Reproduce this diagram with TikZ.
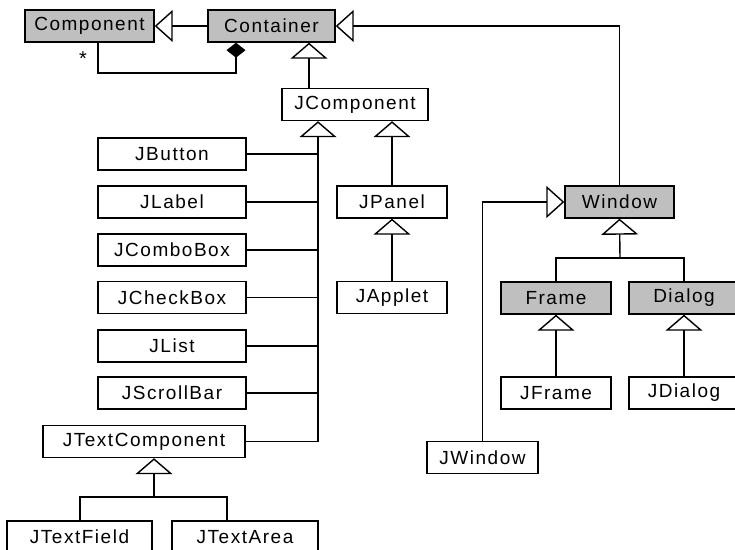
\documentclass[tikz,border=0pt]{standalone}
\usepackage{fontspec}
\setmainfont[LetterSpace=8]{Liberation Sans}
\usetikzlibrary{arrows.meta}
\begin{document}
\begin{tikzpicture}[x=1pt,y=-1pt,
  cls/.style={draw, line width=1.4pt, fill=white, minimum height=32pt, inner sep=0pt, font=\fontsize{19}{21}\selectfont},
  abs/.style={cls, fill=black!25},
  conn/.style={line width=1.4pt},
  inh/.style={conn, -{Triangle[open,length=16pt,width=37pt]}},
  hinh/.style={conn, -{Triangle[open,length=18pt,width=32pt]}},
  compo/.style={conn, -{Diamond[length=15pt,width=19pt]}}]
\useasboundingbox (0,0) rectangle (735,549);
% nodes
\node[abs, minimum width=129pt] (Component) at (89.5,26) {Component};
\node[abs, minimum width=127pt] (Container) at (271.5,26) {Container};
\node[cls, minimum width=146pt] (JComponent) at (355,104.5) {JComponent};
\node[cls, minimum width=148pt] (JButton) at (172,154) {JButton};
\node[cls, minimum width=148pt] (JLabel) at (172,202) {JLabel};
\node[cls, minimum width=148pt] (JComboBox) at (172,250) {JComboBox};
\node[cls, minimum width=148pt] (JCheckBox) at (172,297.5) {JCheckBox};
\node[cls, minimum width=148pt] (JList) at (172,346) {JList};
\node[cls, minimum width=148pt] (JScrollBar) at (172,393) {JScrollBar};
\node[cls, minimum width=202pt] (JTextComponent) at (144,441.5) {JTextComponent};
\node[cls, minimum width=145pt] (JTextField) at (79.5,537) {JTextField};
\node[cls, minimum width=146pt] (JTextArea) at (245,537) {JTextArea};
\node[cls, minimum width=110pt] (JPanel) at (392,202) {JPanel};
\node[cls, minimum width=110pt] (JApplet) at (392,297.5) {JApplet};
\node[abs, minimum width=109pt] (Window) at (619.5,202) {Window};
\node[abs, minimum width=110pt] (Frame) at (556,298) {Frame};
\node[abs, minimum width=110pt] (Dialog) at (684,298) {Dialog};
\node[cls, minimum width=110pt] (JFrame) at (556,393) {JFrame};
\node[cls, minimum width=110pt] (JDialog) at (684,393) {JDialog};
\node[cls, minimum width=111pt] (JWindow) at (482.5,457.5) {JWindow};
\node[font=\fontsize{20}{20}\selectfont, inner sep=0pt] (star) at (83,59) {*};
% helper coordinates
\coordinate (cA) at (98,73);
\coordinate (cB) at (236,73);
\coordinate (xJC) at (309,0);
\coordinate (xJB) at (318,0);
\coordinate (xTC) at (154,0);
\coordinate (tcL) at (80,497);
\coordinate (tcR) at (227,497);
\coordinate (tcM) at (154,497);
\coordinate (wM) at (620,258);
% connectors
\draw[hinh] (Container.west) -- (Component.east);
\draw[compo] (cA |- Component.south) -- (cA) -- (cB) -- (cB |- Container.south);
\draw[hinh] (Window.north) |- (Container.east);
\draw[inh] (xJC |- JComponent.north) -- (xJC |- Container.south);
\draw[inh] (xJB |- JTextComponent.east) -- (xJB |- JComponent.south);
\foreach \n in {JButton,JLabel,JComboBox,JCheckBox,JList,JScrollBar,JTextComponent}
  \draw[conn] (\n.east) -- (xJB |- \n.east);
\draw[inh] (JPanel.north) -- (JPanel.north |- JComponent.south);
\draw[inh] (JApplet) -- (JPanel);
\draw[conn] (tcL |- JTextField.north) -- (tcL) -- (tcR) -- (tcR |- JTextArea.north);
\draw[inh] (tcM) -- (xTC |- JTextComponent.south);
\draw[conn] (Frame.north) |- (wM) -| (Dialog.north);
\draw[inh] (wM) -- (Window.south);
\draw[inh] (JFrame) -- (Frame);
\draw[inh] (JDialog) -- (Dialog);
\draw[hinh] (JWindow.north) |- (Window.west);
\end{tikzpicture}
\end{document}
